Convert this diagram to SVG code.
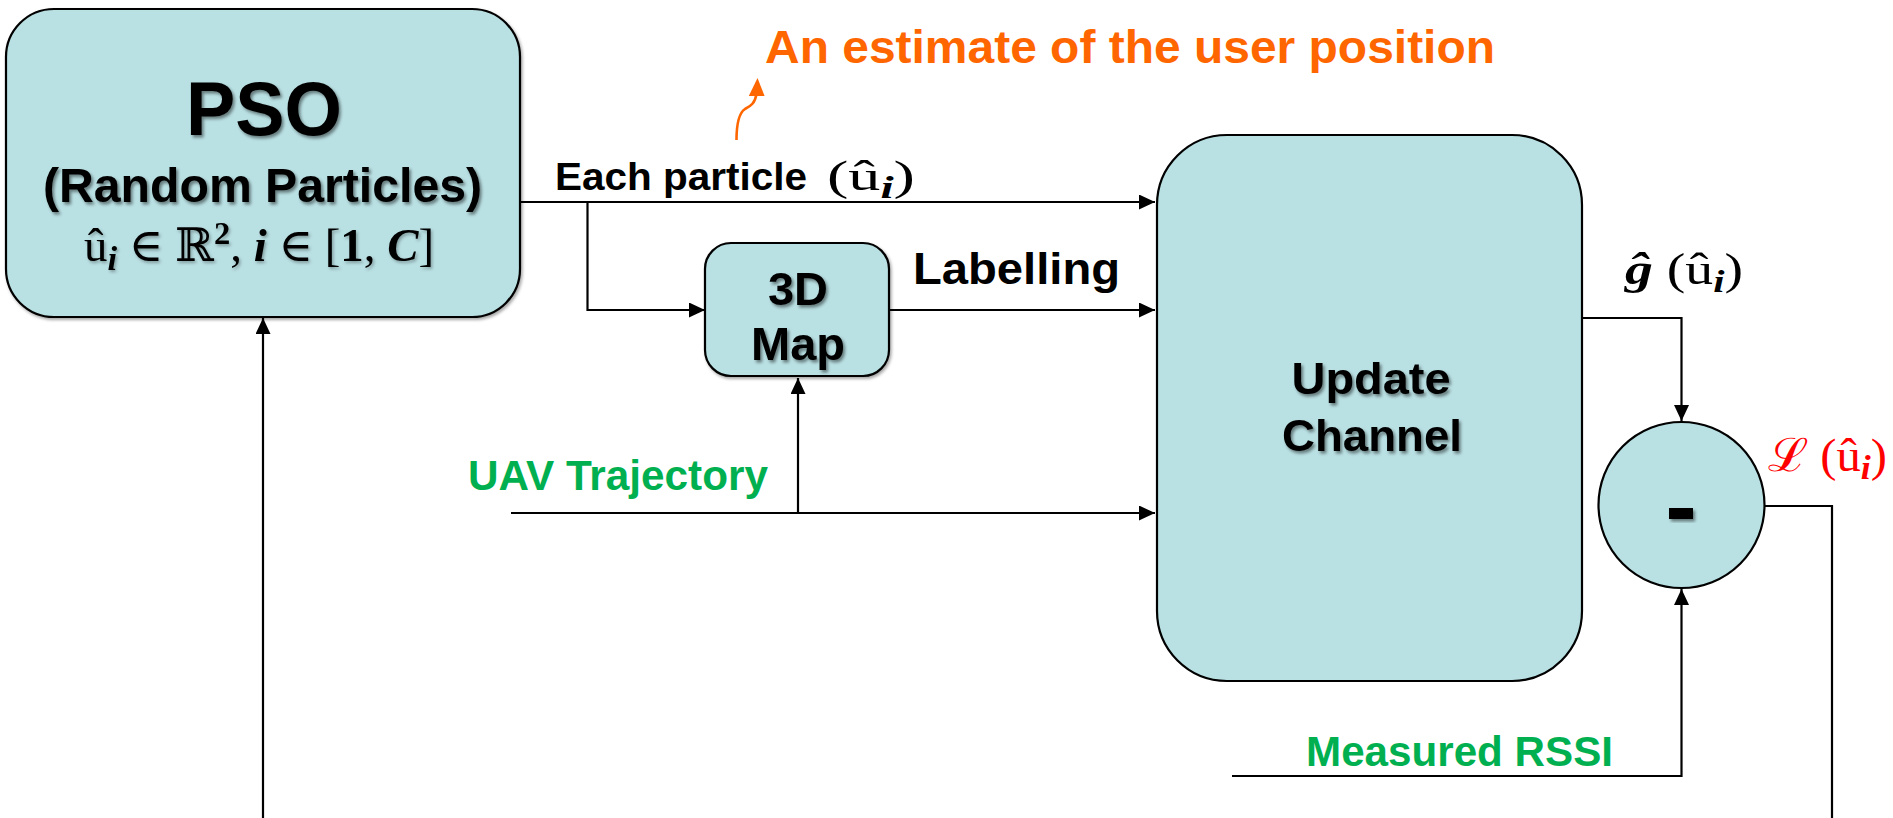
<svg xmlns="http://www.w3.org/2000/svg" width="1893" height="818" viewBox="0 0 1893 818">
  <defs>
    <style>
      .box { fill: #B9E0E3; stroke: #000; stroke-width: 2.2; }
      .sans { font-family: "Liberation Sans", Arial, sans-serif; font-weight: bold; }
      .node-text { fill: #000; filter: url(#txtShadow); }
      .math { font-family: "Liberation Serif", "DejaVu Serif", serif; }
      .bi { font-weight: bold; font-style: italic; }
      .b { font-weight: bold; }
      .green { fill: #00B050; }
      .orange { fill: #FF6600; }
      .red { fill: #FF0000; }
      .wire { fill: none; stroke: #000; stroke-width: 2.2; }
    </style>
    <filter id="txtShadow" x="-10%" y="-10%" width="130%" height="140%">
      <feDropShadow dx="2" dy="2.5" stdDeviation="1.6" flood-color="#000" flood-opacity="0.45"/>
    </filter>
    <filter id="softShadow" x="-10%" y="-10%" width="130%" height="140%">
      <feDropShadow dx="1.5" dy="2" stdDeviation="1.5" flood-color="#000" flood-opacity="0.3"/>
    </filter>
    <filter id="boxShadow" x="-5%" y="-5%" width="112%" height="115%">
      <feDropShadow dx="1.5" dy="2" stdDeviation="1.5" flood-color="#000" flood-opacity="0.35"/>
    </filter>
    <marker id="arrow" markerUnits="userSpaceOnUse" markerWidth="17" markerHeight="15" refX="16" refY="7.5" orient="auto">
      <path d="M0,0 L16,7.5 L0,15 z" fill="#000"/>
    </marker>
  </defs>

  <rect width="1893" height="818" fill="#fff"/>

  <!-- connectors -->
  <g id="connectors">
    <path class="wire" d="M519,202 H1155" marker-end="url(#arrow)"/>
    <path class="wire" d="M587.5,202 V310 H705" marker-end="url(#arrow)"/>
    <path class="wire" d="M890,310 H1155" marker-end="url(#arrow)"/>
    <path class="wire" d="M511,513 H1155" marker-end="url(#arrow)"/>
    <path class="wire" d="M798,513 V378" marker-end="url(#arrow)"/>
    <path class="wire" d="M1582,318 H1681.5 V421" marker-end="url(#arrow)"/>
    <path class="wire" d="M1232,776 H1681.5 V589" marker-end="url(#arrow)"/>
    <path class="wire" d="M1764,506 H1832 V818"/>
    <path class="wire" d="M263,818 V318" marker-end="url(#arrow)"/>
  </g>

  <!-- PSO block -->
  <g id="pso">
    <rect class="box" x="6" y="9" width="514" height="308" rx="48" ry="48" filter="url(#boxShadow)"/>
    <text class="sans node-text" x="264" y="135" font-size="76" text-anchor="middle" textLength="156" lengthAdjust="spacingAndGlyphs">PSO</text>
    <text class="sans node-text" x="262.5" y="202" font-size="48" text-anchor="middle" textLength="439" lengthAdjust="spacingAndGlyphs">(Random Particles)</text>
    <text class="math" x="84" y="261" font-size="46" fill="#000" filter="url(#softShadow)" textLength="350" lengthAdjust="spacingAndGlyphs">û<tspan class="bi" dy="9" font-size="34">i</tspan><tspan dy="-9"> ∈ ℝ</tspan><tspan class="b" dy="-17" font-size="32">2</tspan><tspan dy="17">, </tspan><tspan class="bi">i</tspan> ∈ [<tspan class="b">1</tspan>, <tspan class="bi">C</tspan>]</text>
  </g>

  <!-- 3D map block -->
  <g id="map3d">
    <rect class="box" x="705" y="243" width="184" height="133" rx="26" ry="26" filter="url(#boxShadow)"/>
    <text class="sans node-text" x="798" y="305" font-size="46" text-anchor="middle" textLength="60" lengthAdjust="spacingAndGlyphs">3D</text>
    <text class="sans node-text" x="798" y="360" font-size="47" text-anchor="middle" textLength="94" lengthAdjust="spacingAndGlyphs">Map</text>
  </g>

  <!-- channel update block -->
  <g id="update-channel">
    <rect class="box" x="1157" y="135" width="425" height="546" rx="70" ry="70"/>
    <text class="sans node-text" x="1371" y="394" font-size="44" text-anchor="middle" textLength="159" lengthAdjust="spacingAndGlyphs">Update</text>
    <text class="sans node-text" x="1372" y="451" font-size="45" text-anchor="middle" textLength="180" lengthAdjust="spacingAndGlyphs">Channel</text>
  </g>

  <!-- difference node -->
  <g id="difference">
    <circle class="box" cx="1681.5" cy="505" r="83"/>
    <rect x="1669" y="508" width="24" height="11" fill="#000" filter="url(#txtShadow)"/>
  </g>

  <!-- labels -->
  <g id="labels">
    <text class="sans orange" x="765" y="63" font-size="46" textLength="730" lengthAdjust="spacingAndGlyphs">An estimate of the user position</text>
    <path d="M736.5,140 C736.5,125 739,113 745,109 C751,106 755,103 756.5,94" fill="none" stroke="#FF6600" stroke-width="2.6"/>
    <polygon points="757.5,78 748.8,96 764.6,96" fill="#FF6600"/>

    <text class="sans" x="555" y="190" font-size="39" textLength="252" lengthAdjust="spacingAndGlyphs">Each particle</text>
    <text class="math" x="827" y="190" font-size="42" fill="#000" textLength="88" lengthAdjust="spacingAndGlyphs">(û<tspan class="bi" dy="8" font-size="31">i</tspan><tspan dy="-8">)</tspan></text>

    <text class="sans" x="913" y="284" font-size="44" textLength="207" lengthAdjust="spacingAndGlyphs">Labelling</text>
    <text class="sans green" x="468" y="490" font-size="43" textLength="300" lengthAdjust="spacingAndGlyphs">UAV Trajectory</text>
    <text class="sans green" x="1306" y="766" font-size="42" textLength="307" lengthAdjust="spacingAndGlyphs">Measured RSSI</text>

    <text class="math" x="1625" y="284" font-size="44" fill="#000" textLength="118" lengthAdjust="spacingAndGlyphs"><tspan class="bi">ĝ</tspan> (û<tspan class="bi" dy="8" font-size="32">i</tspan><tspan dy="-8">)</tspan></text>
    <text class="math red" x="1768" y="471" font-size="46" textLength="119" lengthAdjust="spacingAndGlyphs">ℒ (û<tspan class="bi" dy="8" font-size="34">i</tspan><tspan dy="-8">)</tspan></text>
  </g>
</svg>
